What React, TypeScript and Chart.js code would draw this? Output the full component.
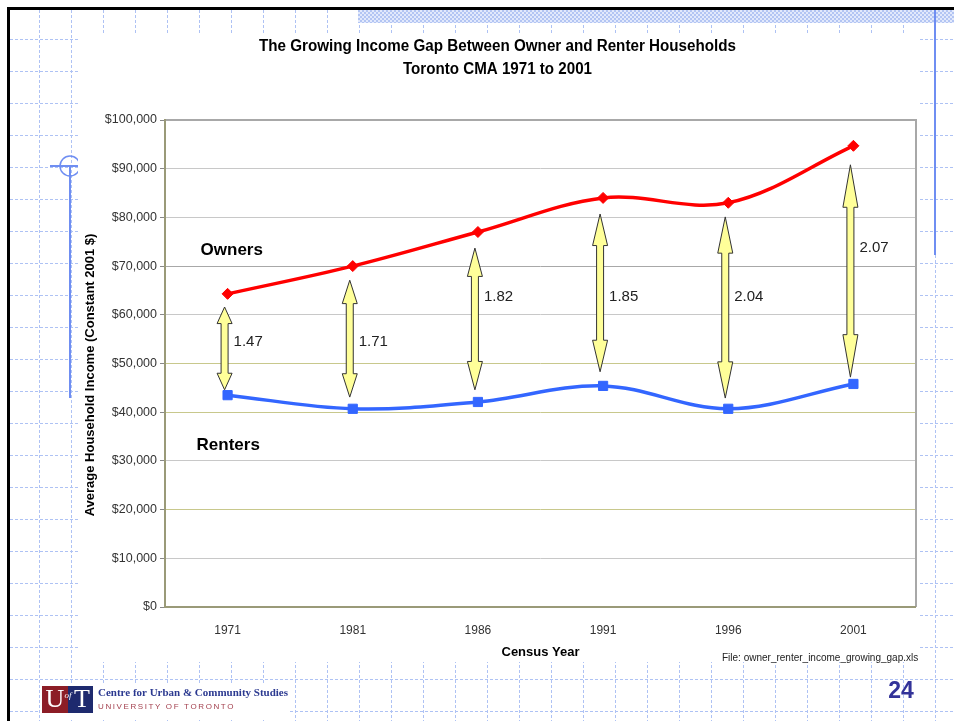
import React, { useEffect, useRef } from "react";
import { Chart, registerables } from "chart.js";

Chart.register(...registerables);

// ---- data ----
const years = ["1971", "1981", "1986", "1991", "1996", "2001"];
const owners = [64300, 70000, 77000, 84000, 83000, 94700];
const renters = [43500, 40700, 42100, 45400, 40700, 45800];
const ratioLabels = ["1.47", "1.71", "1.82", "1.85", "2.04", "2.07"];
const arrowTop = [61600, 67100, 73700, 80700, 80100, 90800];
const arrowBottom = [44600, 43100, 44600, 48300, 42900, 47200];
const ratioLabelY = [54400, 54400, 63700, 63700, 63700, 73700];
const yMin = 0;
const yMax = 100000;
const yStep = 10000;
const titleLines = [
  "The Growing Income Gap Between Owner and Renter Households",
  "Toronto CMA 1971 to 2001",
];
const yTitle = "Average Household Income (Constant 2001 $)";
const xTitle = "Census Year";
const fileNote = "File: owner_renter_income_growing_gap.xls";
const seriesNames = ["Owners", "Renters"];
const seriesLabelY = [73300, 33100];
const footerLines = ["Centre for Urban & Community Studies", "UNIVERSITY OF TORONTO"];
const pageNumber = "24";

const SANS = '"Liberation Sans", Arial, sans-serif';
const SERIF = '"Liberation Serif", "Times New Roman", serif';

function txt(
  ctx: CanvasRenderingContext2D,
  s: string,
  x: number,
  y: number,
  font: string,
  color: string,
  align: CanvasTextAlign = "center",
  maxW?: number
) {
  ctx.save();
  ctx.font = font;
  ctx.fillStyle = color;
  ctx.textAlign = align;
  ctx.textBaseline = "middle";
  if (maxW) ctx.fillText(s, x, y, maxW);
  else ctx.fillText(s, x, y);
  ctx.restore();
}

const decorPlugin = {
  id: "decor",
  beforeDraw(chart: any) {
    const ctx: CanvasRenderingContext2D = chart.ctx;
    const W = chart.width;
    const H = chart.height;
    ctx.save();
    ctx.fillStyle = "#ffffff";
    ctx.fillRect(0, 0, W, H);
    // slide grid
    ctx.strokeStyle = "#aec2f4";
    ctx.lineWidth = 1;
    ctx.setLineDash([3, 2]);
    for (let x = 7 + 32; x < W; x += 32) {
      ctx.beginPath();
      ctx.moveTo(x + 0.5, 10);
      ctx.lineTo(x + 0.5, H);
      ctx.stroke();
    }
    for (let y = 7 + 32; y < H; y += 32) {
      ctx.beginPath();
      ctx.moveTo(10, y + 0.5);
      ctx.lineTo(W, y + 0.5);
      ctx.stroke();
    }
    ctx.setLineDash([]);
    // left blue guide + crosshair
    ctx.strokeStyle = "#6f8ef2";
    ctx.lineWidth = 2;
    ctx.beginPath();
    ctx.moveTo(70, 166);
    ctx.lineTo(70, 398);
    ctx.stroke();
    ctx.beginPath();
    ctx.moveTo(50, 166);
    ctx.lineTo(80, 166);
    ctx.stroke();
    ctx.lineWidth = 1.5;
    ctx.beginPath();
    ctx.arc(70, 166, 10, 0, Math.PI * 2);
    ctx.stroke();
    // hatched band top right
    const pc = document.createElement("canvas");
    pc.width = 4;
    pc.height = 4;
    const p = pc.getContext("2d")!;
    p.fillStyle = "#e2e9fc";
    p.fillRect(0, 0, 4, 4);
    p.fillStyle = "#b3c5f3";
    p.fillRect(0, 0, 2, 2);
    p.fillRect(2, 2, 2, 2);
    const pat = ctx.createPattern(pc, "repeat");
    if (pat) ctx.fillStyle = pat;
    ctx.fillRect(358, 10, W - 358, 13);
    // chart white area
    ctx.fillStyle = "#ffffff";
    ctx.fillRect(78, 33, 918 - 78, 662 - 33);
    // right blue guide
    ctx.strokeStyle = "#6f8ef2";
    ctx.lineWidth = 2;
    ctx.beginPath();
    ctx.moveTo(935, 10);
    ctx.lineTo(935, 255);
    ctx.stroke();
    // black slide border
    ctx.fillStyle = "#000000";
    ctx.fillRect(7, 7, W - 7, 3);
    ctx.fillRect(7, 7, 3, H - 7);
    ctx.restore();
  },
  beforeDatasetsDraw(chart: any) {
    const ctx: CanvasRenderingContext2D = chart.ctx;
    const { left, right, top, bottom } = chart.chartArea;
    const xs = chart.scales.x;
    const ys = chart.scales.y;
    ctx.save();
    // plot frame
    ctx.lineWidth = 2;
    ctx.strokeStyle = "#a8a8a8";
    ctx.beginPath();
    ctx.moveTo(left, top);
    ctx.lineTo(right, top);
    ctx.lineTo(right, bottom);
    ctx.stroke();
    ctx.strokeStyle = "#9a9a78";
    ctx.beginPath();
    ctx.moveTo(left, top - 1);
    ctx.lineTo(left, bottom);
    ctx.lineTo(right, bottom);
    ctx.stroke();
    // double arrows
    for (let i = 0; i < years.length; i++) {
      const x = xs.getPixelForValue(i) - 3;
      const y1 = ys.getPixelForValue(arrowTop[i]);
      const y2 = ys.getPixelForValue(arrowBottom[i]);
      const len = y2 - y1;
      const hl = len * 0.2;
      const hw = 7.5;
      const sw = 3.5;
      ctx.beginPath();
      ctx.moveTo(x, y1);
      ctx.lineTo(x + hw, y1 + hl);
      ctx.lineTo(x + sw, y1 + hl);
      ctx.lineTo(x + sw, y2 - hl);
      ctx.lineTo(x + hw, y2 - hl);
      ctx.lineTo(x, y2);
      ctx.lineTo(x - hw, y2 - hl);
      ctx.lineTo(x - sw, y2 - hl);
      ctx.lineTo(x - sw, y1 + hl);
      ctx.lineTo(x - hw, y1 + hl);
      ctx.closePath();
      ctx.fillStyle = "#ffff99";
      ctx.fill();
      ctx.lineWidth = 1;
      ctx.strokeStyle = "#333333";
      ctx.stroke();
      txt(ctx, ratioLabels[i], x + 9, ys.getPixelForValue(ratioLabelY[i]), "15px " + SANS, "#222222", "left", 30);
    }
    ctx.restore();
  },
  afterDraw(chart: any) {
    const ctx: CanvasRenderingContext2D = chart.ctx;
    const { left, right } = chart.chartArea;
    const xs = chart.scales.x;
    const ys = chart.scales.y;
    const cx = (left + right) / 2;
    // titles
    txt(ctx, titleLines[0], 497.5, 47, "bold 16px " + SANS, "#000000", "center", 477);
    txt(ctx, titleLines[1], 497.5, 70, "bold 16px " + SANS, "#000000", "center", 189);
    // axis titles
    ctx.save();
    ctx.translate(90, 375);
    ctx.rotate(-Math.PI / 2);
    txt(ctx, yTitle, 0, 0, "bold 13px " + SANS, "#000000", "center", 285);
    ctx.restore();
    txt(ctx, xTitle, cx, 652, "bold 13px " + SANS, "#000000", "center", 78);
    // series labels
    txt(ctx, seriesNames[0], xs.getPixelForValue(0) - 27, ys.getPixelForValue(seriesLabelY[0]), "bold 17px " + SANS, "#000000", "left", 66);
    txt(ctx, seriesNames[1], xs.getPixelForValue(0) - 31, ys.getPixelForValue(seriesLabelY[1]), "bold 17px " + SANS, "#000000", "left", 67);
    // file note (clipped)
    ctx.save();
    ctx.beginPath();
    ctx.rect(700, 645, 918 - 700, 25);
    ctx.clip();
    txt(ctx, fileNote, 722, 658, "10px " + SANS, "#222222", "left", 200);
    ctx.restore();
    // footer logo
    ctx.save();
    ctx.fillStyle = "#ffffff";
    ctx.fillRect(40, 684, 250, 34);
    ctx.fillStyle = "#8c1d26";
    ctx.fillRect(42, 686, 26, 27);
    ctx.fillStyle = "#1e2a6e";
    ctx.fillRect(68, 686, 25, 27);
    ctx.restore();
    txt(ctx, "U", 55, 700, "26px " + SERIF, "#ffffff", "center");
    txt(ctx, "of", 68, 696, "italic 9px " + SERIF, "#ffffff", "center");
    txt(ctx, "T", 82, 700, "26px " + SERIF, "#ffffff", "center");
    txt(ctx, footerLines[0], 98, 693, "bold 11px " + SERIF, "#2b3990", "left", 190);
    // spaced caps
    ctx.save();
    ctx.font = "8px " + SANS;
    ctx.fillStyle = "#a3404e";
    ctx.textBaseline = "middle";
    let x = 98;
    for (const ch of footerLines[1]) {
      ctx.fillText(ch, x, 707);
      x += ctx.measureText(ch).width + 1.6;
    }
    ctx.restore();
    txt(ctx, pageNumber, 901, 692, "bold 23px " + SANS, "#333399", "center");
  },
};

export default function App() {
  const ref = useRef<HTMLCanvasElement | null>(null);
  useEffect(() => {
    if (!ref.current) return;
    const gridColor = (v: number) => {
      const r = Math.round(v);
      if (r === 70000) return "#a8a8a8";
      if (r === 50000 || r === 40000 || r === 20000) return "#c8c88c";
      return "#c8c8c8";
    };
    const chart = new Chart(ref.current, {
      type: "line",
      data: {
        labels: years,
        datasets: [
          {
            label: seriesNames[0],
            data: owners,
            borderColor: "#ff0000",
            backgroundColor: "#ff0000",
            borderWidth: 3.5,
            pointStyle: "rectRot",
            pointRadius: 5.5,
            pointBorderWidth: 1,
            pointBackgroundColor: "#ff0000",
            pointBorderColor: "#ff0000",
            tension: 0.35,
            fill: false,
          },
          {
            label: seriesNames[1],
            data: renters,
            borderColor: "#3366ff",
            backgroundColor: "#3366ff",
            borderWidth: 3.5,
            pointStyle: "rect",
            pointRadius: 6.5,
            pointBorderWidth: 1,
            pointBackgroundColor: "#3366ff",
            pointBorderColor: "#3366ff",
            tension: 0.35,
            fill: false,
          },
        ],
      },
      options: {
        responsive: false,
        devicePixelRatio: 1,
        animation: false,
        events: [],
        layout: { padding: { left: 0, top: 120, right: 38, bottom: 0 } },
        plugins: {
          legend: { display: false },
          tooltip: { enabled: false },
          title: { display: false },
        },
        scales: {
          x: {
            type: "category",
            offset: true,
            grid: { display: false, drawTicks: false },
            border: { display: false },
            ticks: {
              padding: 16,
              color: "#333333",
              font: { family: SANS, size: 12 },
              maxRotation: 0,
            },
            afterFit(scale: any) {
              scale.height = 114;
            },
          },
          y: {
            min: yMin,
            max: yMax,
            border: { display: false },
            grid: {
              color: (c: any) => gridColor(c.tick ? c.tick.value : 0),
              lineWidth: 1,
              tickLength: 5,
              tickColor: "#888888",
              drawTicks: true,
            },
            ticks: {
              stepSize: yStep,
              padding: 3,
              color: "#333333",
              font: { family: SANS, size: 12.5 },
              callback: (v: any) => "$" + Number(v).toLocaleString("en-US"),
            },
            afterFit(scale: any) {
              scale.width = 165;
            },
          },
        },
      },
      plugins: [decorPlugin],
    } as any);
    return () => chart.destroy();
  }, []);
  return (
    <div style={{ position: "fixed", left: 0, top: 0, width: 954, height: 721, background: "#fff" }}>
      <canvas ref={ref} width={954} height={721} style={{ display: "block" }} />
    </div>
  );
}
